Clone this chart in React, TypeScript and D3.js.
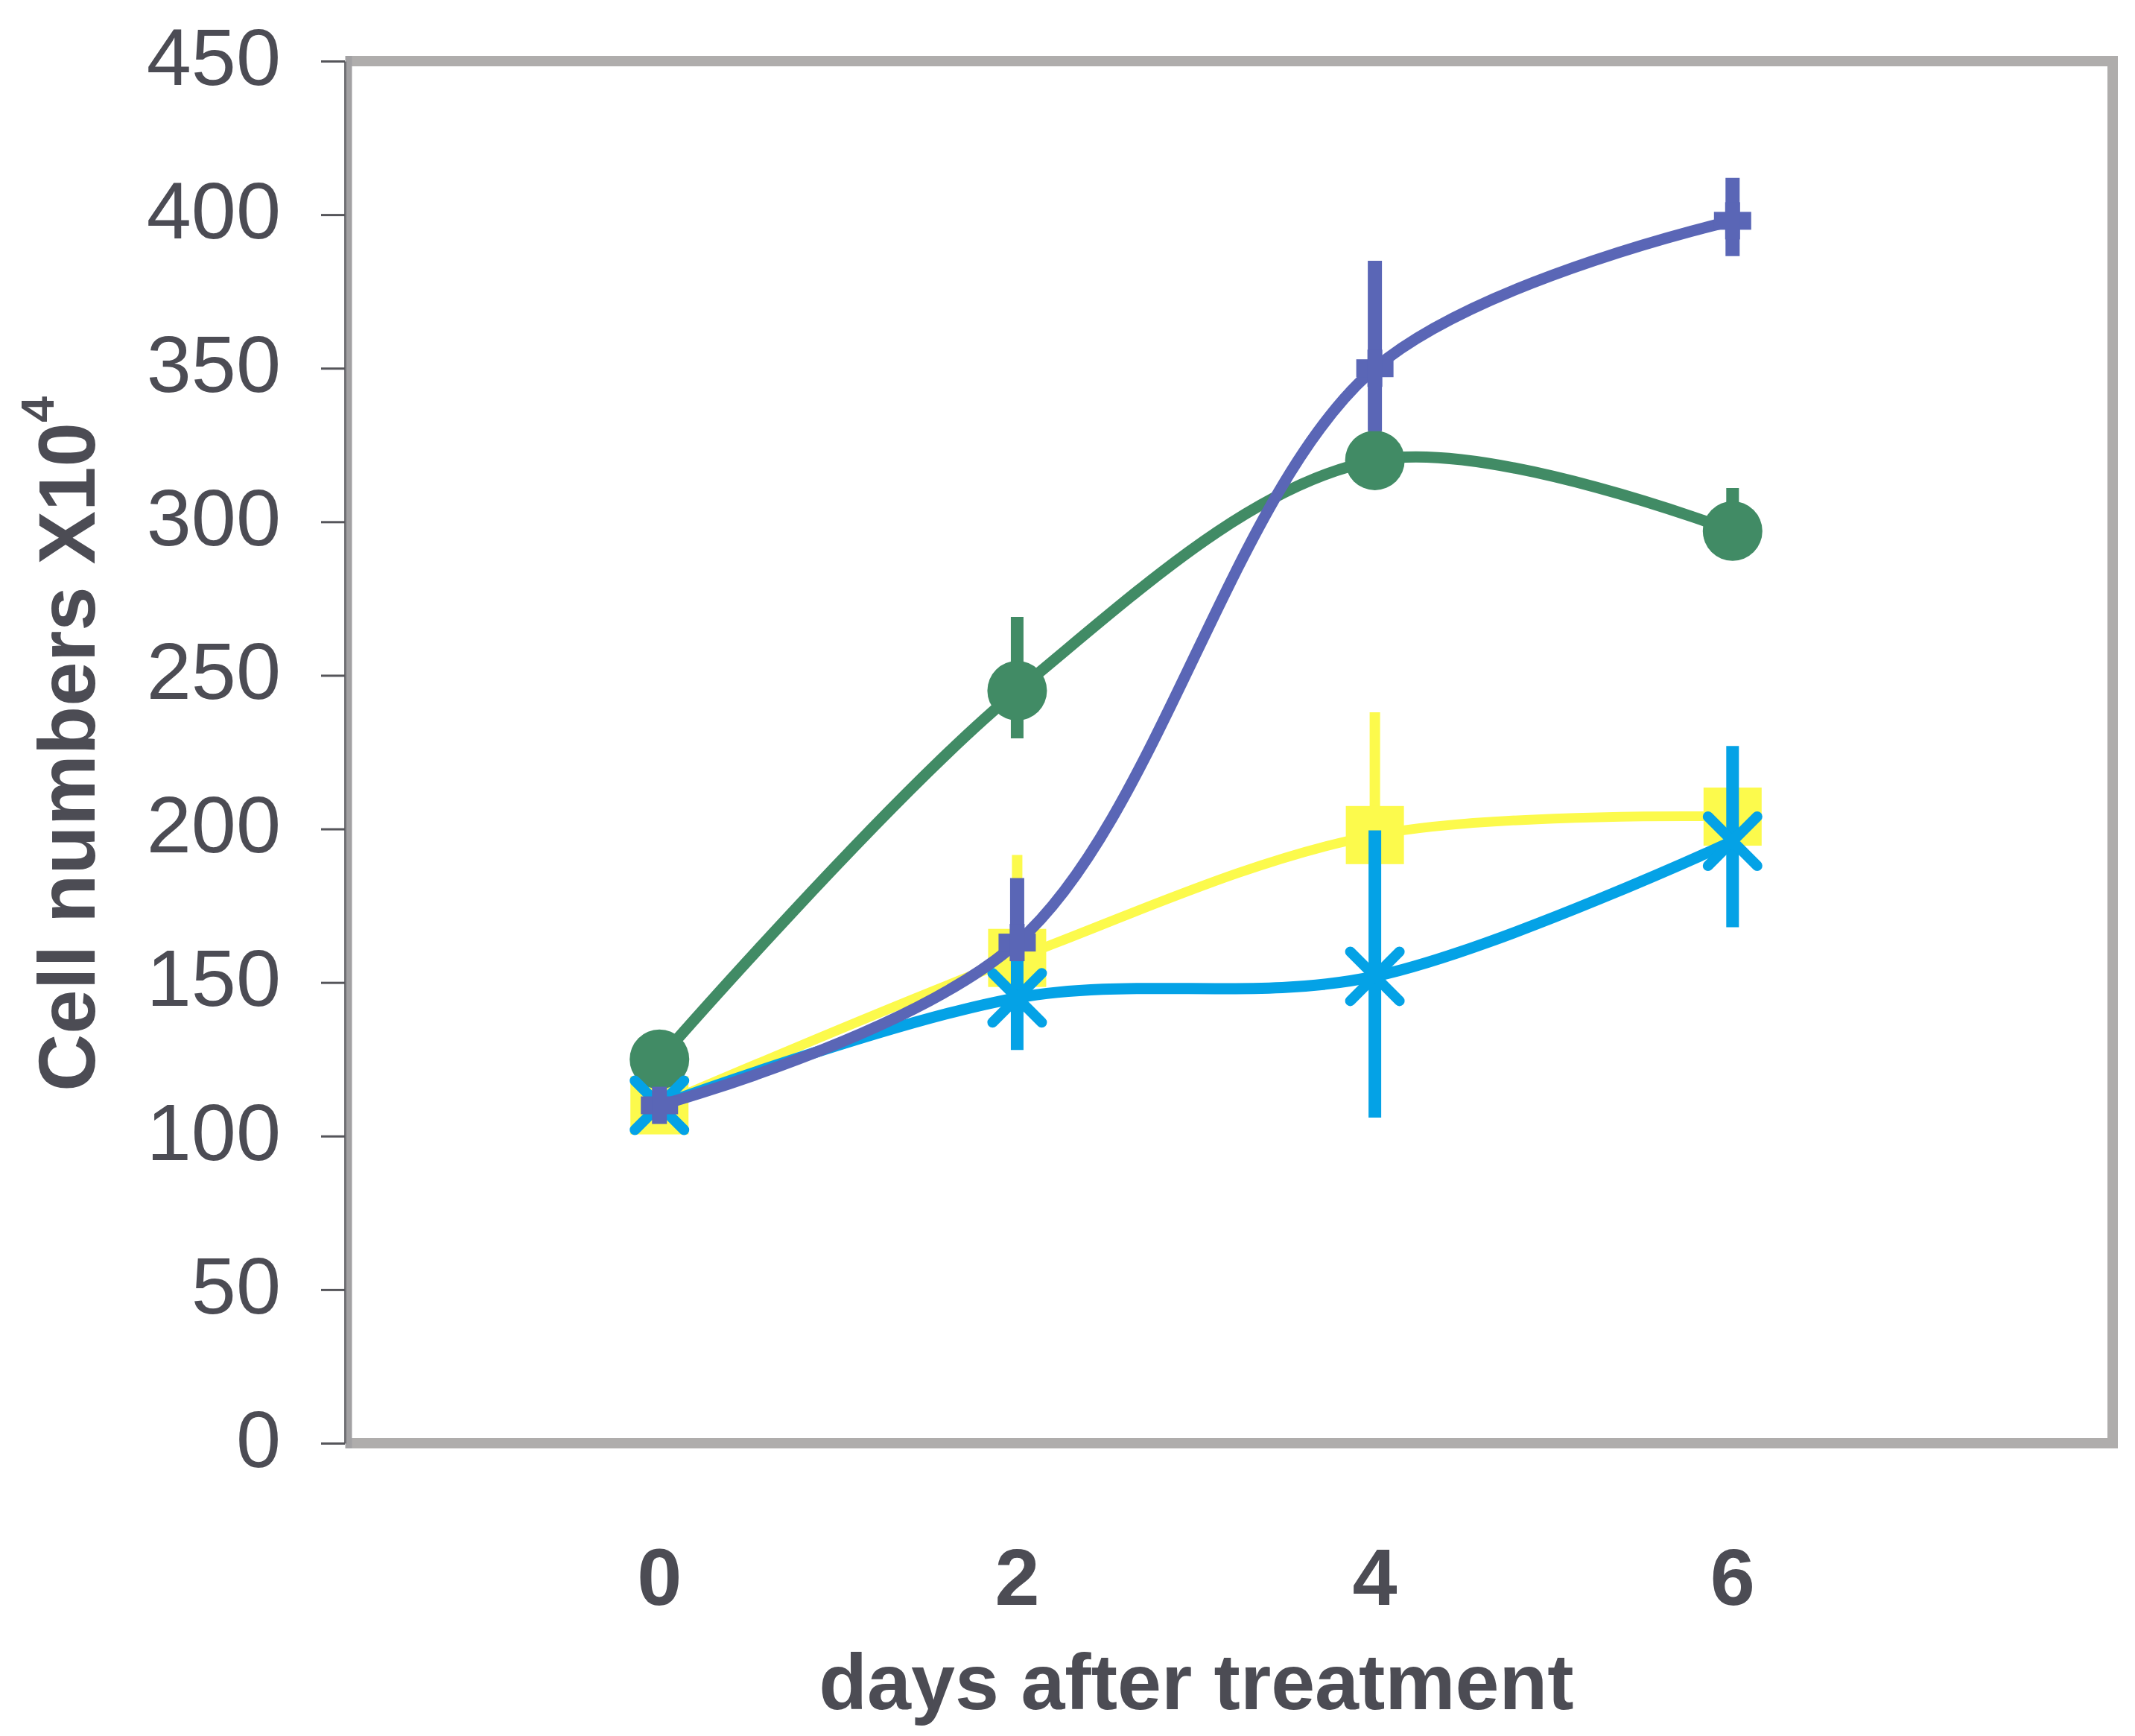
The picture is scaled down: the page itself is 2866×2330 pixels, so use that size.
import { useRef, useEffect } from 'react';
import * as d3 from 'd3';

const width = 2866;
const height = 2330;

const days = [0, 2, 4, 6];
const yTicks = [0, 50, 100, 150, 200, 250, 300, 350, 400, 450];

// mean values, and the top / bottom ends of the error bars (null = no bar)
const greenMean = [125, 245, 320, 297];
const greenHigh = [null, 269, 338, 311];
const greenLow = [null, 229.5, 320, 297];

const blueMean = [110, 163, 350, 398];
const blueHigh = [null, 184, 385, 412];
const blueLow = [null, 163, 329.5, 386.5];

const yellowMean = [110, 158, 198, 204];
const yellowHigh = [null, 191.5, 238, 225];
const yellowLow = [null, 142, 177.5, 204];

const cyanMean = [110, 145, 152, 196];
const cyanHigh = [null, 168, 199.5, 227];
const cyanLow = [null, 128, 106, 168];

type Marker = 'square' | 'circle' | 'x' | 'plus';

interface Series {
  mean: number[];
  high: (number | null)[];
  low: (number | null)[];
  color: string;
  lineWidth: number;
  barWidth: number;
  marker: Marker;
}

// drawing order: yellow, green, cyan, blue (blue ends on top)
const series: Series[] = [
  { mean: yellowMean, high: yellowHigh, low: yellowLow, color: '#fcfa4c', lineWidth: 13, barWidth: 14, marker: 'square' },
  { mean: greenMean, high: greenHigh, low: greenLow, color: '#418b65', lineWidth: 15, barWidth: 17, marker: 'circle' },
  { mean: cyanMean, high: cyanHigh, low: cyanLow, color: '#04a2e6', lineWidth: 15, barWidth: 17, marker: 'x' },
  { mean: blueMean, high: blueHigh, low: blueLow, color: '#5a66b6', lineWidth: 15, barWidth: 19, marker: 'plus' },
];

const textColor = '#4c4c54';
const font = '"Liberation Sans", Arial, sans-serif';

export default function App() {
  const svgRef = useRef<SVGSVGElement | null>(null);

  useEffect(() => {
    const svg = d3.select(svgRef.current);
    svg.selectAll('*').remove();

    const left = 467, right = 2836, top = 82, bottom = 1937;

    const xScale = d3.scaleLinear().domain([-1.742, 8.125]).range([left, right]);
    const yScale = d3.scaleLinear().domain([0, 450]).range([bottom, top]);

    svg.append('rect')
      .attr('width', width)
      .attr('height', height)
      .attr('fill', '#fff');

    // plot area frame: top, right, bottom in light gray
    svg.append('path')
      .attr('d', `M${left},${top}H${right}V${bottom}H${left}`)
      .attr('fill', 'none')
      .attr('stroke', '#afadac')
      .attr('stroke-width', 14)
      .attr('stroke-linejoin', 'miter');
    svg.append('line')
      .attr('x1', left + 1).attr('x2', left + 1)
      .attr('y1', top - 7).attr('y2', bottom + 7)
      .attr('stroke', '#a2a1a3')
      .attr('stroke-width', 9);

    // y axis
    const yAxis = d3.axisLeft(yScale)
      .tickValues(yTicks)
      .tickSize(32)
      .tickSizeOuter(0)
      .tickPadding(54)
      .tickFormat(d => `${d}`);
    const yg = svg.append('g')
      .attr('transform', `translate(${left - 4},0)`)
      .call(yAxis);
    yg.select('.domain').attr('stroke', '#707074').attr('stroke-width', 3);
    yg.selectAll('.tick line').attr('stroke', '#55555a').attr('stroke-width', 3);
    yg.selectAll('.tick text')
      .attr('fill', textColor)
      .attr('font-family', font)
      .attr('font-size', 108)
      .attr('dy', '0.29em');

    // x tick labels (no tick marks)
    svg.append('g')
      .selectAll('text')
      .data(days)
      .join('text')
      .attr('x', d => xScale(d))
      .attr('y', 2154)
      .attr('text-anchor', 'middle')
      .attr('font-family', font)
      .attr('font-weight', 'bold')
      .attr('font-size', 108)
      .attr('fill', textColor)
      .text(d => `${d}`);

    // axis titles
    svg.append('text')
      .attr('x', 1606)
      .attr('y', 2294)
      .attr('text-anchor', 'middle')
      .attr('font-family', font)
      .attr('font-weight', 'bold')
      .attr('font-size', 106)
      .attr('fill', textColor)
      .text('days after treatment');

    const yTitle = svg.append('text')
      .attr('transform', 'translate(127,1465) rotate(-90)')
      .attr('font-family', font)
      .attr('font-weight', 'bold')
      .attr('font-size', 107)
      .attr('fill', textColor);
    yTitle.append('tspan').text('Cell numbers X10');
    yTitle.append('tspan').attr('font-size', 63).attr('dy', -55).text('4');

    const line = d3.line<number>()
      .x((_, i) => xScale(days[i]))
      .y(d => yScale(d))
      .curve(d3.curveCatmullRom.alpha(0.5));

    series.forEach(s => {
      const g = svg.append('g');

      g.append('path')
        .attr('d', line(s.mean))
        .attr('fill', 'none')
        .attr('stroke', s.color)
        .attr('stroke-width', s.lineWidth)
        .attr('stroke-linejoin', 'round')
        .attr('stroke-linecap', 'round');

      // error bars, no caps
      days.forEach((d, i) => {
        const hi = s.high[i], lo = s.low[i];
        if (hi === null || lo === null) return;
        g.append('line')
          .attr('x1', xScale(d))
          .attr('x2', xScale(d))
          .attr('y1', yScale(hi))
          .attr('y2', yScale(lo))
          .attr('stroke', s.color)
          .attr('stroke-width', s.barWidth);
      });

      // markers
      days.forEach((d, i) => {
        const cx = xScale(d);
        const cy = yScale(s.mean[i]);
        if (s.marker === 'circle') {
          g.append('circle').attr('cx', cx).attr('cy', cy).attr('r', 40).attr('fill', s.color);
        } else if (s.marker === 'square') {
          g.append('rect').attr('x', cx - 39).attr('y', cy - 39)
            .attr('width', 78).attr('height', 78).attr('fill', s.color);
        } else if (s.marker === 'x') {
          const r = 33;
          g.append('path')
            .attr('d', `M${cx - r},${cy - r}L${cx + r},${cy + r}M${cx - r},${cy + r}L${cx + r},${cy - r}`)
            .attr('stroke', s.color)
            .attr('stroke-width', 14)
            .attr('stroke-linecap', 'round');
        } else {
          g.append('rect').attr('x', cx - 25).attr('y', cy - 12)
            .attr('width', 50).attr('height', 24).attr('fill', s.color);
          g.append('rect').attr('x', cx - 10).attr('y', cy - 25)
            .attr('width', 20).attr('height', 50).attr('fill', s.color);
        }
      });
    });
  }, []);

  return (
    <svg
      ref={svgRef}
      width={width}
      height={height}
      style={{ position: 'absolute', left: 0, top: 0 }}
    />
  );
}
